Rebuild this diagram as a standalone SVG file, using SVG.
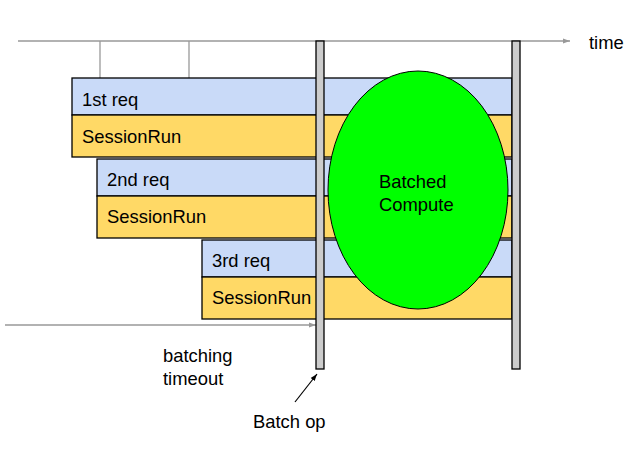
<svg xmlns="http://www.w3.org/2000/svg" width="638" height="463" viewBox="0 0 638 463">
<style>
text{font-family:"Liberation Sans",Arial,sans-serif;font-size:18.4px;fill:#000}
.req{fill:#c9daf8;stroke:#000;stroke-width:1.3}
.run{fill:#ffd966;stroke:#000;stroke-width:1.3}
.bar{fill:#cccccc;stroke:#000;stroke-width:1.3}
.gl{stroke:#999;stroke-width:1.3;fill:none}
</style>
<defs>
<marker id="ga" markerWidth="8" markerHeight="8" refX="7" refY="4" orient="auto" markerUnits="userSpaceOnUse"><path d="M0,1.5 L7,4 L0,6.5 Z" fill="#999"/></marker>
<marker id="ba" markerWidth="8" markerHeight="8" refX="7" refY="4" orient="auto" markerUnits="userSpaceOnUse"><path d="M0,1.5 L7,4 L0,6.5 Z" fill="#000"/></marker>
</defs>
<g id="connectors">
<line class="gl" x1="18" y1="41" x2="570" y2="41" marker-end="url(#ga)"/>
<line class="gl" x1="100" y1="41" x2="100" y2="78"/>
<line class="gl" x1="189" y1="41" x2="189" y2="78"/>
<line class="gl" x1="5" y1="325" x2="316" y2="325" marker-end="url(#ga)"/>
<line x1="295" y1="402" x2="317" y2="374" stroke="#000" stroke-width="1.2" marker-end="url(#ba)"/>
</g>
<g id="req1"><rect class="req" x="72" y="78" width="440" height="37"/><text x="82" y="106">1st req</text></g>
<g id="run1"><rect class="run" x="72" y="115" width="440" height="42"/><text x="82" y="143">SessionRun</text></g>
<g id="req2"><rect class="req" x="97" y="159" width="415" height="37"/><text x="107" y="186">2nd req</text></g>
<g id="run2"><rect class="run" x="97" y="196" width="415" height="42"/><text x="107" y="223">SessionRun</text></g>
<g id="req3"><rect class="req" x="202" y="240" width="310" height="37"/><text x="212" y="267">3rd req</text></g>
<g id="run3"><rect class="run" x="202" y="277" width="310" height="42"/><text x="212" y="304">SessionRun</text></g>
<g id="compute"><ellipse cx="418" cy="190" rx="90" ry="119" fill="#00ff00" stroke="#000" stroke-width="1"/><text x="379" y="188">Batched</text><text x="379" y="211">Compute</text></g>
<g id="bar1"><rect class="bar" x="316" y="41" width="8" height="328"/></g>
<g id="bar2"><rect class="bar" x="512" y="41" width="8" height="328"/></g>
<g id="labels">
<text x="589" y="49">time</text>
<text x="163" y="362">batching</text>
<text x="163" y="385">timeout</text>
<text x="253" y="428">Batch op</text>
</g>
</svg>
